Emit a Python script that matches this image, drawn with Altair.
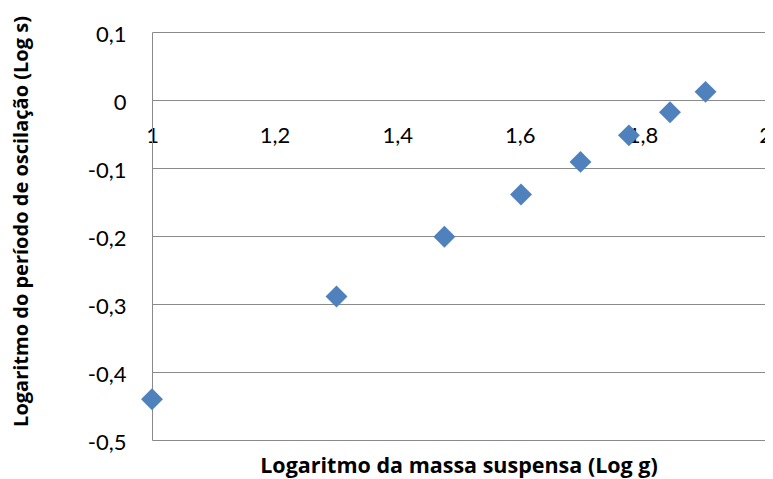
import altair as alt
import pandas as pd

# Data
log_mass = [1.0, 1.301, 1.477, 1.602, 1.699, 1.778, 1.845, 1.903]
log_period = [-0.44, -0.289, -0.201, -0.139, -0.091, -0.052, -0.018, 0.012]
x_ticks = [1.0, 1.2, 1.4, 1.6, 1.8, 2.0]
y_ticks = [-0.5, -0.4, -0.3, -0.2, -0.1, 0.0, 0.1]
x_title = "Logaritmo da massa suspensa (Log g)"
y_title = "Logaritmo do período de oscilação (Log s)"

df = pd.DataFrame({"x": log_mass, "y": log_period})

label_expr = "replace(replace(format(datum.value, '~g'), '.', ','), '\u2212', '-')"

FONT = "Lato"
TFONT = "Open Sans"
GRID = "#8a8a8a"

chart = (
    alt.Chart(df)
    .mark_point(shape="diamond", filled=True, size=480, color="#4F81BD", opacity=1)
    .encode(
        x=alt.X(
            "x:Q",
            scale=alt.Scale(domain=[1, 2], nice=False, zero=False),
            axis=alt.Axis(
                values=x_ticks, labelExpr=label_expr, grid=False, ticks=False, tickSize=0,
                domain=False, offset=-340, labelPadding=25, labelFlush=False,
                labelFontSize=22, labelFont=FONT, labelColor="#000000",
                title=x_title, titleFont=TFONT, titleFontSize=21.5, titleFontWeight="bold",
                titleY=372, titleBaseline="alphabetic", titleColor="#000000",
            ),
        ),
        y=alt.Y(
            "y:Q",
            scale=alt.Scale(domain=[-0.5, 0.1], nice=False, zero=False),
            axis=alt.Axis(
                values=y_ticks, labelExpr=label_expr, grid=True, gridColor=GRID, gridWidth=1,
                ticks=False, tickSize=0, domain=True, domainColor=GRID, domainWidth=1,
                labelPadding=26, labelFontSize=22, labelFont=FONT, labelColor="#000000",
                labelFlush=False, labelOffset=2,
                title=y_title, titleFont=TFONT, titleFontSize=20, titleFontWeight="bold",
                titleX=-131, titleY=189, titleBaseline="middle", titleColor="#000000",
            ),
        ),
    )
    .properties(
        width=613, height=408,
        padding={"left": 144, "top": 24, "right": 0, "bottom": 39},
        autosize=alt.AutoSizeParams(type="none"),
    )
    .configure_view(stroke=None)
)

chart.save("out.html", embed_options={"renderer": "svg", "actions": False})
